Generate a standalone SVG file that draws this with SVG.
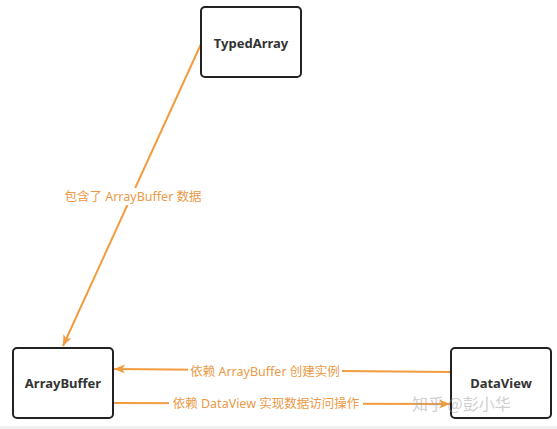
<svg xmlns="http://www.w3.org/2000/svg" width="557" height="429" viewBox="0 0 557 429">
  <style>
    .node rect { fill: #ffffff; stroke: #222222; stroke-width: 2; }
    .node text { font-family: "Noto Sans", "Noto Sans CJK SC", sans-serif; font-size: 13px; font-weight: bold; fill: #333333; text-anchor: middle; dominant-baseline: central; }
    .edge { stroke: #f29b3f; stroke-width: 2; fill: none; }
    .lbl { font-family: "Noto Sans", "Noto Sans CJK SC", sans-serif; font-size: 12.5px; fill: #eb9a48; text-anchor: middle; dominant-baseline: central; }
    .lblbg { fill: #ffffff; }
    .wm { font-family: "Noto Sans CJK SC", sans-serif; font-size: 16px; fill: #a0a0a0; opacity: 0.5; }
  </style>
  <defs>
    <marker id="arr" markerUnits="userSpaceOnUse" markerWidth="12" markerHeight="10" refX="11" refY="4.5" orient="auto">
      <path d="M0,0 L11,4.5 L0,9 L3,4.5 z" fill="#f29b3f"/>
    </marker>
  </defs>
  <rect x="0" y="0" width="557" height="429" fill="#ffffff"/>
  <rect x="0" y="426" width="557" height="3" fill="#f0f0f0"/>

  <g id="connectors">
    <g id="e1">
      <line class="edge" x1="201" y1="44" x2="63" y2="346" marker-end="url(#arr)"/>
      <rect class="lblbg" x="58" y="188" width="152" height="17"/>
      <text class="lbl" x="133" y="196">包含了 ArrayBuffer 数据</text>
    </g>
    <g id="e2">
      <line class="edge" x1="451" y1="372" x2="114" y2="369" marker-end="url(#arr)"/>
      <rect class="lblbg" x="188" y="363" width="154" height="17"/>
      <text class="lbl" x="265" y="371">依赖 ArrayBuffer 创建实例</text>
    </g>
    <g id="e3">
      <line class="edge" x1="113" y1="403" x2="450" y2="404" marker-end="url(#arr)"/>
      <rect class="lblbg" x="169" y="395" width="194" height="17"/>
      <text class="lbl" x="266" y="403">依赖 DataView 实现数据访问操作</text>
    </g>
  </g>

  <g id="TypedArray" class="node">
    <rect x="201" y="7" width="100" height="70" rx="4"/>
    <text x="251" y="43">TypedArray</text>
  </g>
  <g id="ArrayBuffer" class="node">
    <rect x="13" y="348" width="100" height="70" rx="4"/>
    <text x="63" y="383">ArrayBuffer</text>
  </g>
  <g id="DataView" class="node">
    <rect x="451" y="348" width="100" height="70" rx="4"/>
    <text x="501" y="383">DataView</text>
  </g>

  <text class="wm" x="412" y="410">知乎 @彭小华</text>
</svg>
